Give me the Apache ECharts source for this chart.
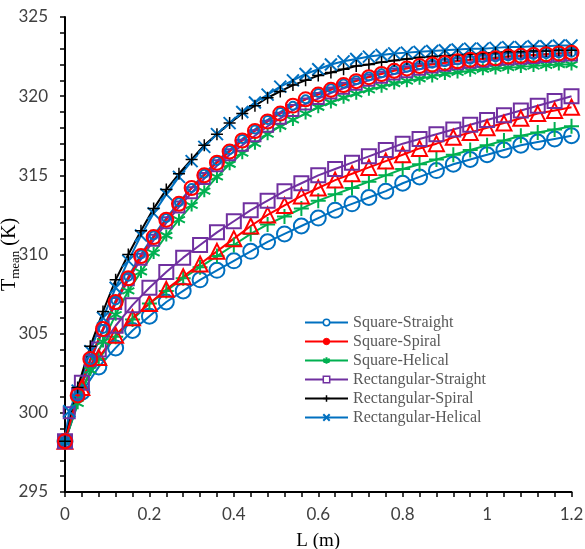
<!DOCTYPE html>
<html><head><meta charset="utf-8">
<script src="https://cdn.jsdelivr.net/npm/echarts@6/dist/echarts.min.js"></script>
<style>html,body{margin:0;padding:0;background:#fff}#c{width:585px;height:549px}</style>
</head><body><div id="c"></div>
<script>
// x positions (m)
const L_UP = [0,0.03,0.06,0.09,0.12,0.15,0.18,0.21,0.24,0.27,0.3,0.33,0.36,0.39,0.42,0.45,0.48,0.51,0.54,0.57,0.6,0.63,0.66,0.69,0.72,0.75,0.78,0.81,0.84,0.87,0.9,0.93,0.96,0.99,1.02,1.05,1.08,1.11,1.14,1.17,1.2];
const L_UP_B = [0,0.01,0.03,0.06,0.09,0.12,0.15,0.18,0.21,0.24,0.27,0.3,0.33,0.36,0.39,0.42,0.45,0.48,0.51,0.54,0.57,0.6,0.63,0.66,0.69,0.72,0.75,0.78,0.81,0.84,0.87,0.9,0.93,0.96,0.99,1.02,1.05,1.08,1.11,1.14,1.17,1.2];
const L_LOW = [0,0.04,0.08,0.12,0.16,0.2,0.24,0.28,0.32,0.36,0.4,0.44,0.48,0.52,0.56,0.6,0.64,0.68,0.72,0.76,0.8,0.84,0.88,0.92,0.96,1,1.04,1.08,1.12,1.16,1.2];

// legend series (upper bundle), T mean (K)
const sqStraight = [298.2,301.0,303.3,305.3,307.1,308.6,310.0,311.2,312.3,313.3,314.2,315.1,315.9,316.6,317.3,317.9,318.5,319.0,319.4,319.8,320.2,320.5,320.8,321.0,321.25,321.45,321.65,321.8,321.95,322.05,322.15,322.25,322.3,322.4,322.45,322.5,322.55,322.6,322.65,322.7,322.75];
const sqSpiral = [298.2,301.1,303.4,305.3,307.0,308.5,309.9,311.1,312.2,313.2,314.2,315.0,315.8,316.5,317.2,317.8,318.4,318.9,319.4,319.8,320.1,320.4,320.7,320.95,321.2,321.4,321.6,321.75,321.9,322.0,322.1,322.2,322.3,322.35,322.4,322.5,322.55,322.6,322.65,322.7,322.75];
const sqHelical = [298.2,300.6,302.7,304.5,306.2,307.7,308.9,310.1,311.2,312.2,313.1,314.0,314.9,315.7,316.4,317.0,317.6,318.1,318.5,318.9,319.3,319.6,319.9,320.15,320.4,320.6,320.8,320.95,321.1,321.25,321.4,321.5,321.6,321.7,321.75,321.8,321.85,321.9,321.95,322.0,322.0];
const rectStraight = [298.2,300.0,301.2,303.3,305.2,306.9,308.4,309.7,310.9,312.0,313.0,313.9,314.8,315.6,316.3,316.9,317.5,318.1,318.6,319.1,319.5,319.85,320.2,320.5,320.75,321.0,321.2,321.4,321.55,321.7,321.85,321.95,322.05,322.15,322.2,322.3,322.35,322.4,322.45,322.5,322.55,322.6];
const rectSpiral = [298.2,301.6,304.2,306.4,308.4,310.0,311.5,312.9,314.1,315.1,316.0,316.9,317.6,318.3,318.9,319.4,319.9,320.3,320.7,321.0,321.3,321.5,321.7,321.9,322.0,322.15,322.25,322.35,322.45,322.5,322.55,322.6,322.65,322.7,322.75,322.8,322.8,322.85,322.85,322.9,322.9];
const rectHelical = [298.2,300.1,301.4,303.9,306.0,307.9,309.6,311.2,312.6,313.8,314.9,315.9,316.8,317.6,318.3,319.0,319.6,320.1,320.6,321.0,321.4,321.7,322.0,322.2,322.35,322.5,322.6,322.7,322.75,322.8,322.85,322.9,322.95,323.0,323.0,323.05,323.1,323.1,323.15,323.15,323.2,323.2];

// lower bundle (not in legend)
const lowCircle = [298.2,301.3,302.9,304.1,305.2,306.1,307.0,307.7,308.4,309.0,309.6,310.2,310.8,311.3,311.8,312.3,312.8,313.2,313.6,314.0,314.5,314.9,315.3,315.7,316.0,316.3,316.6,316.9,317.1,317.3,317.5];
const lowTriangle = [298.2,301.6,303.5,304.9,306.0,306.9,307.8,308.6,309.4,310.2,311.0,311.8,312.5,313.1,313.7,314.2,314.7,315.1,315.5,315.9,316.3,316.7,317.0,317.4,317.7,318.0,318.3,318.6,318.9,319.1,319.3];
const lowPlus = [298.2,301.5,303.4,304.8,305.9,306.9,307.7,308.5,309.2,309.9,310.6,311.3,311.9,312.4,312.9,313.4,313.8,314.2,314.6,315.0,315.4,315.7,316.0,316.3,316.6,316.9,317.2,317.5,317.7,317.9,318.1];
const lowSquare = [298.2,301.9,304.0,305.5,306.8,307.9,308.9,309.8,310.6,311.4,312.1,312.8,313.4,314.0,314.5,315.0,315.4,315.8,316.2,316.6,317.0,317.3,317.6,317.9,318.2,318.5,318.8,319.1,319.4,319.7,320.0];

const BLUE = '#0070C0', RED = '#FF0000', GREEN = '#00B050', PURPLE = '#7030A0', BLACK = '#000000';
const X_PATH = 'path://M0,0L10,10M10,0L0,10';
const PLUS_PATH = 'path://M5,0L5,10M0,5L10,5';
const AST_PATH = 'path://M5,0L5,10M0.67,2.5L9.33,7.5M0.67,7.5L9.33,2.5';
const NONE = 'rgba(0,0,0,0)';

function mk(name, xs, ys, color, symbol, size, bw) {
  return {
    name: name, type: 'line', data: xs.map((x, i) => [x, ys[i]]),
    symbol: symbol, symbolSize: size, showAllSymbol: true,
    lineStyle: {color: color, width: 2},
    itemStyle: {color: NONE, borderColor: color, borderWidth: bw},
    emphasis: {disabled: true}, silent: true
  };
}

const chart = echarts.init(document.getElementById('c'), null, {renderer: 'canvas'});
const serif = 'Liberation Serif, Times New Roman, serif';
chart.setOption({
  animation: false,
  backgroundColor: '#fff',
  grid: {left: 65, right: 13.5, top: 17, bottom: 57, containLabel: false, outerBoundsMode: 'none'},
  legend: {
    orient: 'vertical', left: 304, top: 314, itemWidth: 43, itemHeight: 8, itemGap: 2, padding: 0,
    textStyle: {fontFamily: serif, fontSize: 16, color: '#595959', lineHeight: 17},
    selectedMode: false,
    data: [
      {name: 'Square-Straight', itemStyle: {color: '#fff', borderColor: BLUE, borderWidth: 1.5}},
      {name: 'Square-Spiral', itemStyle: {color: RED, borderColor: RED, borderWidth: 1}},
      {name: 'Square-Helical', itemStyle: {color: NONE, borderColor: GREEN, borderWidth: 2}},
      {name: 'Rectangular-Straight', itemStyle: {color: '#fff', borderColor: PURPLE, borderWidth: 1.5}},
      {name: 'Rectangular-Spiral', itemStyle: {color: NONE, borderColor: BLACK, borderWidth: 1.5}},
      {name: 'Rectangular-Helical', itemStyle: {color: NONE, borderColor: BLUE, borderWidth: 2}}
    ]
  },
  xAxis: {
    type: 'value', min: 0, max: 1.2, interval: 0.2,
    name: 'L (m)', nameLocation: 'middle', nameGap: 40, nameMoveOverlap: false,
    nameTextStyle: {fontFamily: serif, fontSize: 19, color: '#000'},
    axisLine: {show: true, lineStyle: {color: '#000', width: 2}},
    axisTick: {show: true, length: 5, lineStyle: {color: '#000', width: 1.5}},
    minorTick: {show: true, splitNumber: 5, length: 5, lineStyle: {color: '#000', width: 1.5}},
    splitLine: {show: false},
    axisLabel: {fontFamily: 'Lato, sans-serif', fontSize: 17, color: '#404040', margin: 14}
  },
  yAxis: {
    type: 'value', min: 295, max: 325, interval: 5,
    name: '{t|T}{s|mean}{t| (K)}', nameLocation: 'middle', nameGap: 43, nameRotate: 90, nameMoveOverlap: false,
    nameTextStyle: {fontFamily: serif, fontSize: 20, color: '#000',
      rich: {t: {fontFamily: serif, fontSize: 20, color: '#000', lineHeight: 24, verticalAlign: 'middle'},
             s: {fontFamily: serif, fontSize: 13, color: '#000', lineHeight: 13, verticalAlign: 'bottom'}}},
    axisLine: {show: true, lineStyle: {color: '#000', width: 2}},
    axisTick: {show: true, length: 5, lineStyle: {color: '#000', width: 1.5}},
    minorTick: {show: true, splitNumber: 5, length: 5, lineStyle: {color: '#000', width: 1.5}},
    splitLine: {show: false},
    axisLabel: {fontFamily: 'Lato, sans-serif', fontSize: 17, color: '#404040', margin: 17}
  },
  series: [
    mk('low-circle', L_LOW, lowCircle, BLUE, 'circle', 15, 2),
    mk('low-plus', L_LOW, lowPlus, GREEN, PLUS_PATH, 15, 2),
    mk('low-triangle', L_LOW, lowTriangle, RED, 'triangle', 15, 2),
    mk('low-square', L_LOW, lowSquare, PURPLE, 'rect', 14, 2),
    mk('Square-Helical', L_UP, sqHelical, GREEN, AST_PATH, 12, 2),
    mk('Rectangular-Straight', L_UP_B, rectStraight, PURPLE, 'rect', 11, 2),
    mk('Square-Straight', L_UP, sqStraight, BLUE, 'circle', 8, 2),
    mk('Rectangular-Helical', L_UP_B, rectHelical, BLUE, X_PATH, 12, 2),
    mk('Rectangular-Spiral', L_UP, rectSpiral, BLACK, PLUS_PATH, 12, 1.5),
    mk('Square-Spiral', L_UP, sqSpiral, RED, 'circle', 14, 2)
  ]
});
</script></body></html>
